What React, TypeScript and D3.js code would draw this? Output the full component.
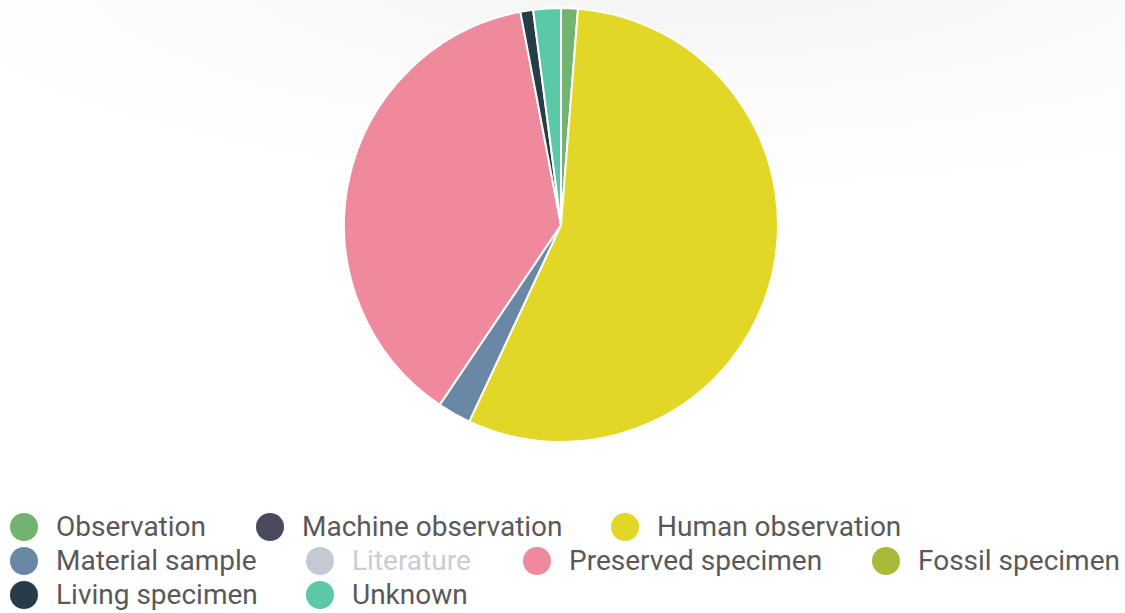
import React from "react";
import * as d3 from "d3";

const categories = [
  "Observation",
  "Machine observation",
  "Human observation",
  "Material sample",
  "Literature",
  "Preserved specimen",
  "Fossil specimen",
  "Living specimen",
  "Unknown",
];
const counts = [125, 0, 5570, 250, 0, 3755, 0, 95, 205];
const hidden = [false, false, false, false, true, false, false, false, false];
const colors = [
  "#72b36f",
  "#4a4a5e",
  "#e2d727",
  "#6b87a6",
  "#bfc5d2",
  "#ef8a9c",
  "#a9ba3a",
  "#263c48",
  "#5bc8a8",
];
// legend rows: indices into categories
const legendRows = [
  [0, 1, 2],
  [3, 4, 5, 6],
  [7, 8],
];

const W = 1125;
const H = 613;

export default function App() {
  const cx = 561;
  const cy = 225;
  const r = 217;

  const items = categories.map((name, i) => ({ name, value: counts[i], i }));
  const visible = items.filter((d) => !hidden[d.i]);

  const pie = d3
    .pie<{ name: string; value: number; i: number }>()
    .sort(null)
    .value((d) => d.value);
  const arc = d3
    .arc<d3.PieArcDatum<{ name: string; value: number; i: number }>>()
    .innerRadius(0)
    .outerRadius(r);
  const arcs = pie(visible).filter((a) => a.data.value > 0);

  // legend column positions (symbol x) per row
  const colX = [
    [24, 270, 625],
    [24, 320, 537, 886],
    [24, 320],
  ];
  const rowY = d3.scalePoint<number>().domain([0, 1, 2]).range([527, 595]);

  return (
    <div style={{ position: "absolute", left: 0, top: 0 }}>
      <svg width={W} height={H} style={{ display: "block" }}>
        <defs>
          <radialGradient id="bg" cx="0.62" cy="-0.15" r="0.75">
            <stop offset="0%" stopColor="#f2f2f2" />
            <stop offset="60%" stopColor="#fbfbfb" />
            <stop offset="100%" stopColor="#ffffff" />
          </radialGradient>
        </defs>
        <rect width={W} height={H} fill="#fff" />
        <rect width={W} height={330} fill="url(#bg)" />
        <g transform={`translate(${cx},${cy})`}>
          {arcs.map((a) => (
            <path
              key={a.data.name}
              d={arc(a) || ""}
              fill={colors[a.data.i]}
              stroke="#fff"
              strokeWidth={2}
              strokeLinejoin="round"
            />
          ))}
        </g>
        <g fontFamily="Roboto, 'Noto Sans', sans-serif" fontSize={28}>
          {legendRows.map((row, ri) =>
            row.map((idx, ci) => {
              const x = colX[ri][ci];
              const y = rowY(ri) as number;
              const off = hidden[idx];
              return (
                <g key={categories[idx]}>
                  <circle cx={x} cy={y} r={14} fill={off ? "#c4c9d4" : colors[idx]} />
                  <text
                    x={x + 32}
                    y={y + 9}
                    fill={off ? "#c8ccd6" : "#595959"}
                  >
                    {categories[idx]}
                  </text>
                </g>
              );
            })
          )}
        </g>
      </svg>
    </div>
  );
}
